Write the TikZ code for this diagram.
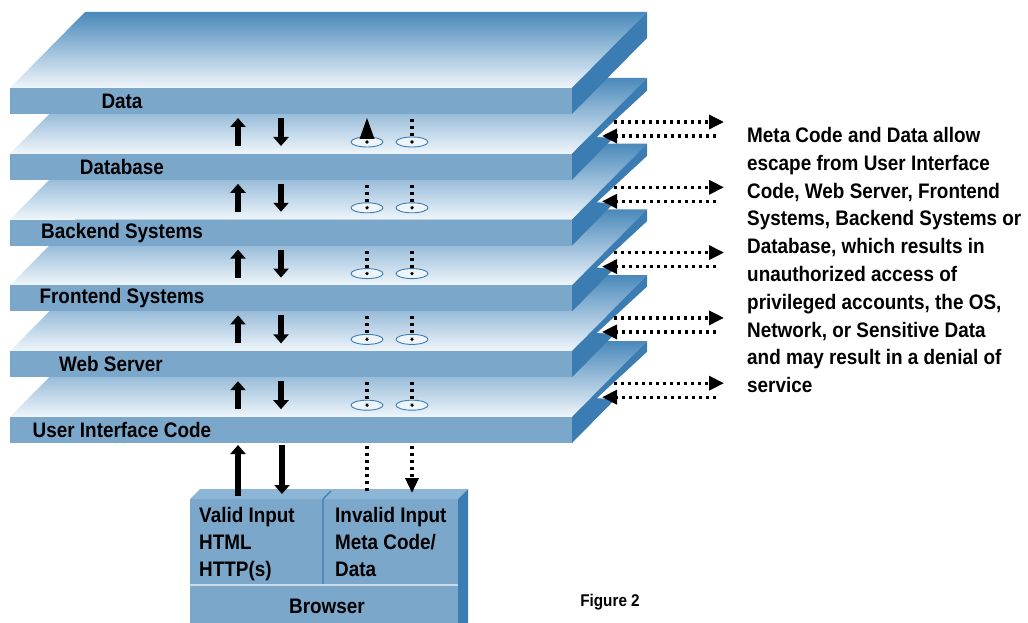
\documentclass[tikz,border=0pt]{standalone}
\usepackage{fontspec}
\setmainfont{Liberation Sans}[FakeStretch=0.9]
\usetikzlibrary{arrows.meta,positioning}

\definecolor{frontblue}{HTML}{7BA7CB}
\definecolor{sideblue}{HTML}{3B7DB3}
\definecolor{backblue}{HTML}{4A89BB}
\definecolor{paleblue}{HTML}{F0F6FB}
\definecolor{boxtop}{HTML}{8DB5D6}
\definecolor{eyefill}{HTML}{EEF5FA}

\tikzset{
  layerlabel/.style={font=\fontsize{21}{27}\selectfont\bfseries,inner sep=0pt},
  boxtext/.style={font=\fontsize{21}{27}\selectfont\bfseries,inner sep=0pt,align=left},
  solidarrow/.style={line width=6.5pt,-{Triangle[width=15pt,length=9pt]}},
  dotline/.style={line width=3.4pt,dash pattern=on 3pt off 4pt},
  escape/.style={dotline,-{Triangle[width=14pt,length=15pt]}},
  eye/.style={draw=sideblue,fill=eyefill,line width=0.9pt}
}

\begin{document}
\begin{tikzpicture}[x=1pt,y=-1pt,line join=round]
\useasboundingbox (0,0) rectangle (1028,623);
% the six layers, painted from the bottom one up
\foreach \k in {5,4,...,0}{
\pgfmathsetmacro{\t}{88+65.8*\k}
\shade[top color=backblue,bottom color=paleblue] (10,\t) -- (85,\t-76) -- (647,\t-76) -- (572,\t) -- cycle;
\fill[frontblue] (10,\t) rectangle (572,\t+26);
\fill[sideblue] (572,\t) -- (647,\t-76) -- (647,\t-50) -- (572,\t+26) -- cycle;
}
\foreach \k/\name/\x/\txt in {0/data/122/Data,1/database/122/Database,2/backend/122/Backend Systems,3/frontend/122/Frontend Systems,4/webserver/111/Web Server,5/uicode/122/User Interface Code}
\node[layerlabel] (\name) at (\x,88+65.8*\k+13) {\txt};
% arrows between the layers
\foreach \k in {0,...,4}{
\pgfmathsetmacro{\t}{88+65.8*\k}
\coordinate (upfrom\k) at (238,\t+58);
\coordinate (upto\k) at (238,\t+30);
\coordinate (downfrom\k) at (281,\t+30);
\coordinate (downto\k) at (281,\t+58);
\draw[solidarrow] (upfrom\k) -- (upto\k);
\draw[solidarrow] (downfrom\k) -- (downto\k);
\coordinate (eyea\k) at (367,\t+54);
\coordinate (eyeb\k) at (412,\t+54);
\draw[eye] (eyea\k) ellipse [x radius=16pt,y radius=5pt];
\draw[eye] (eyeb\k) ellipse [x radius=16pt,y radius=5pt];
\fill (eyea\k) circle [radius=1.8pt];
\fill (eyeb\k) circle [radius=1.8pt];
\draw[dotline] (412,\t+31) -- (412,\t+52);
\ifnum\k=0
\fill (367,\t+30) -- (374.5,\t+51) -- (359.5,\t+51) -- cycle;
\else
\draw[dotline] (367,\t+31) -- (367,\t+52);
\fi
}
% escape through the side of the stack
\foreach \k in {0,...,4}{
\pgfmathsetmacro{\a}{122+65.3*\k}
\fill[white] (597,\a+15) -- (649,\a-33) -- (649,\a+18) -- cycle;
\coordinate (leakout\k) at (614,\a);
\coordinate (leakend\k) at (724,\a);
\coordinate (leakin\k) at (716,\a+14);
\coordinate (leakhole\k) at (602,\a+14);
\draw[escape] (leakout\k) -- (leakend\k);
\draw[escape] (leakin\k) -- (leakhole\k);
}
\node[boxtext,anchor=north west,font=\fontsize{21}{27.8}\selectfont\bfseries] (note) at (747,127) {Meta Code and Data allow\\escape from User Interface\\Code, Web Server, Frontend\\Systems, Backend Systems or\\Database, which results in\\unauthorized access of\\privileged accounts, the OS,\\Network, or Sensitive Data\\and may result in a denial of\\service};
% browser box
\fill[boxtop] (190,499) -- (200,489) -- (468,489) -- (458,499) -- cycle;
\fill[frontblue] (190,499) rectangle (458,623);
\fill[sideblue] (458,499) -- (468,489) -- (468,623) -- (458,623) -- cycle;
\draw[sideblue,line width=1.2pt] (323,585) -- (323,499) -- (331,491);
\draw[white!60!frontblue,line width=1.5pt] (190,585) -- (458,585);
\node[boxtext,anchor=north west] (valid) at (199,507) {Valid Input\\HTML\\HTTP(s)};
\node[boxtext,anchor=north west] (invalid) at (335,507) {Invalid Input\\Meta Code/\\Data};
\node[boxtext] (browser) at (327,606) {Browser};
% requests from the browser
\coordinate (uivalid) at (238,445);
\coordinate (boxvalid) at (238,496);
\coordinate (uiback) at (282,445);
\coordinate (boxback) at (282,494);
\coordinate (uimeta) at (367,446);
\coordinate (boxmeta) at (367,493);
\coordinate (uidata) at (412,446);
\coordinate (boxdata) at (412,493);
\draw[solidarrow] (boxvalid) -- (uivalid);
\draw[solidarrow] (uiback) -- (boxback);
\draw[dotline] (uimeta) -- (boxmeta);
\draw[dotline,-{Triangle[width=13pt,length=15pt]}] (uidata) -- (boxdata);
\node[font=\fontsize{17}{20}\selectfont\bfseries] (figlabel) at (610,602) {Figure 2};
\end{tikzpicture}
\end{document}
